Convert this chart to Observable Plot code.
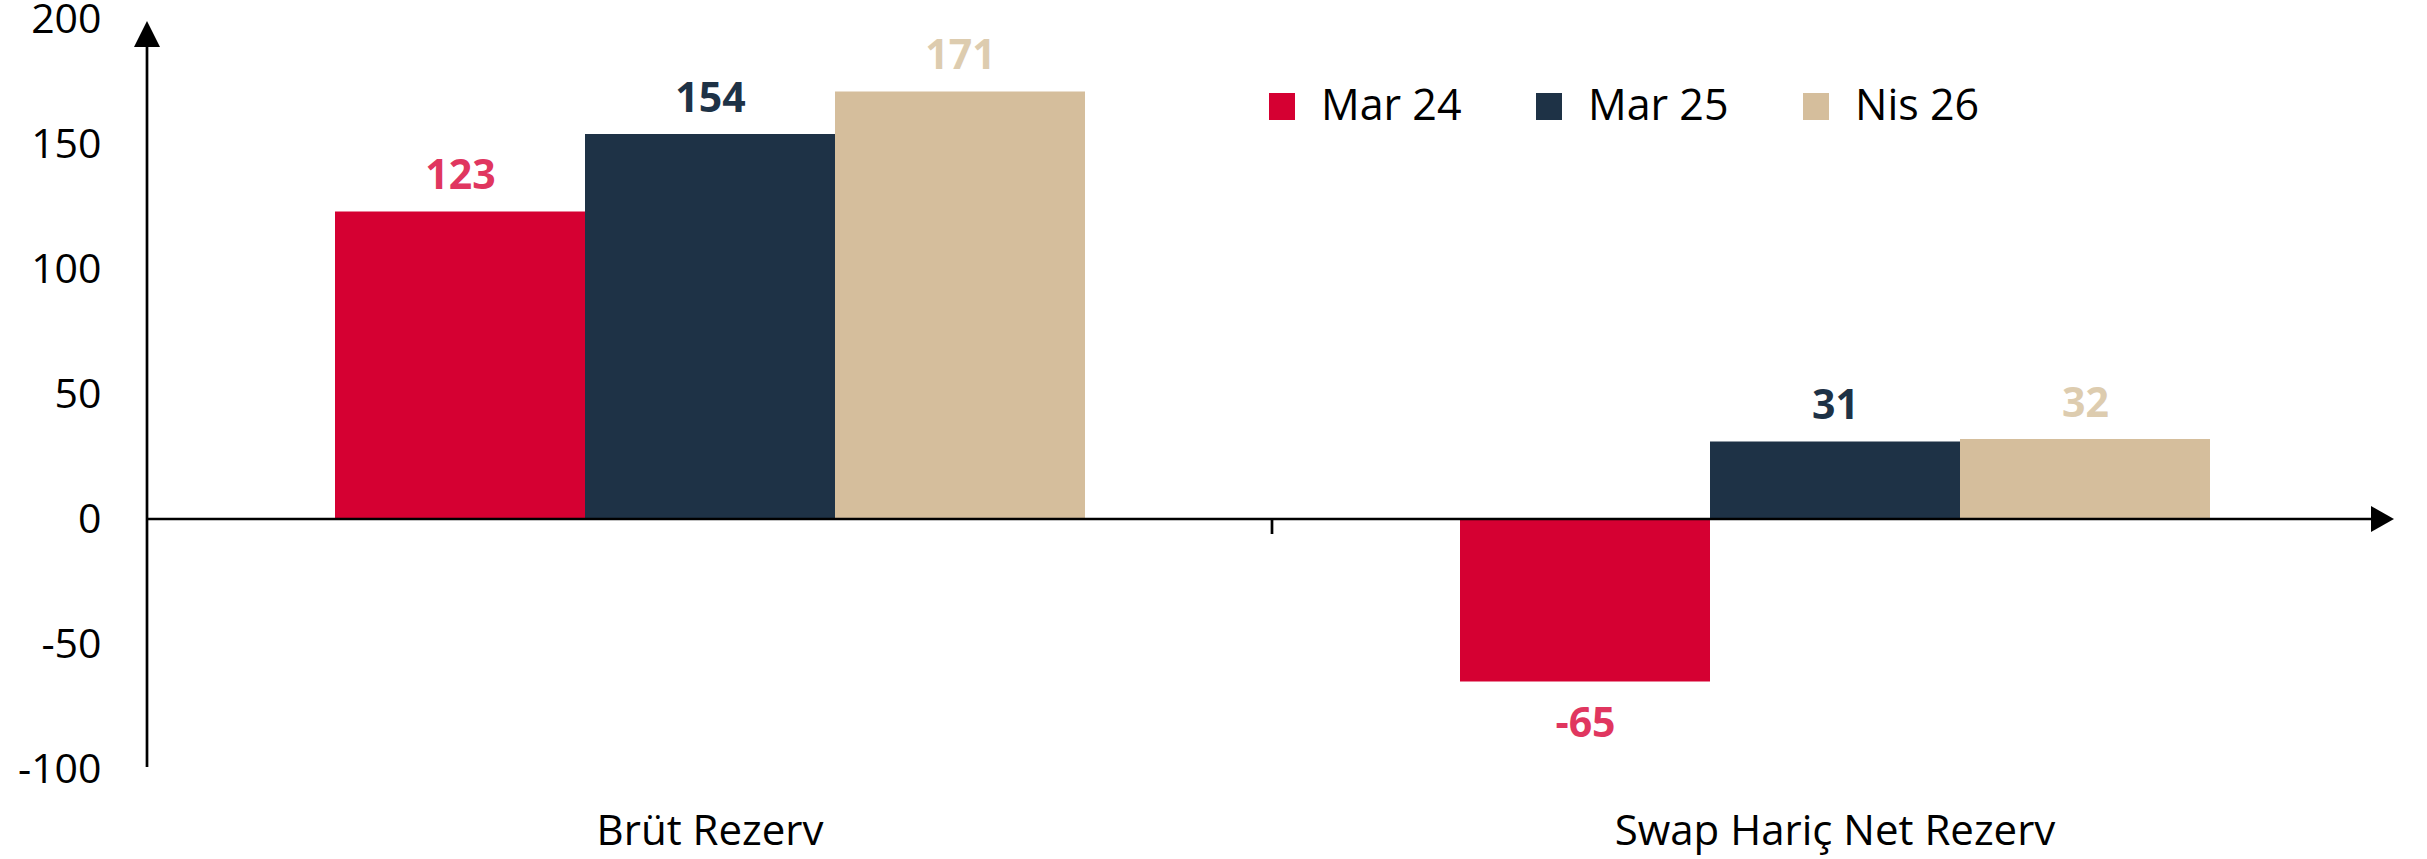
<!DOCTYPE html>
<html>
<head>
<meta charset="utf-8">
<script src="https://cdn.jsdelivr.net/npm/d3@7"></script>
<script src="https://cdn.jsdelivr.net/npm/@observablehq/plot@0.6"></script>
<style>
  html, body { margin: 0; padding: 0; background: #fff; }
  #wrap { position: relative; width: 2427px; height: 859px; font-family: "Open Sans", sans-serif; }
  #legend { position: absolute; left: 1269px; top: 74px; display: grid; grid-template-columns: 267px 267px 267px; }
  .item { display: flex; align-items: center; font-size: 43px; color: #000; line-height: normal; }
  .sw { width: 26px; height: 27px; margin-right: 26px; position: relative; top: 3px; flex: none; }
</style>
</head>
<body>
<div id="wrap"><div id="legend"></div></div>
<script>
const groups = ["Brüt Rezerv", "Swap Hariç Net Rezerv"];
const series = ["Mar 24", "Mar 25", "Nis 26"];
const brutValues = [123, 154, 171];
const swapValues = [-65, 31, 32];
const barColors = ["#D50032", "#1E3246", "#D5BE9C"];
const labelColors = ["#E0365F", "#1E3246", "#DDCCAF"];
const yTicks = [-100, -50, 0, 50, 100, 150, 200];

const data = [
  ...series.map((s, i) => ({group: groups[0], series: s, value: brutValues[i]})),
  ...series.map((s, i) => ({group: groups[1], series: s, value: swapValues[i]}))
];

const labelMarks = series.flatMap((s, i) => [
  Plot.text(data.filter(d => d.series === s && d.value >= 0), {
    fx: "group", x: "series", y: "value", text: d => String(d.value),
    fill: labelColors[i], fontWeight: 700, fontSize: 41, lineAnchor: "bottom", dy: -23
  }),
  Plot.text(data.filter(d => d.series === s && d.value < 0), {
    fx: "group", x: "series", y: "value", text: d => String(d.value),
    fill: labelColors[i], fontWeight: 700, fontSize: 41, lineAnchor: "top", dy: 26
  })
]);

const plot = Plot.plot({
  width: 2427,
  height: 859,
  marginLeft: 147,
  marginRight: 30,
  marginTop: 19,
  marginBottom: 90,
  style: {fontFamily: '"Open Sans", sans-serif', fontSize: "41px", color: "#000", background: "#fff", overflow: "visible"},
  fx: {domain: groups, padding: 0, label: null},
  x: {domain: series, paddingInner: 0, paddingOuter: 0.75, axis: null},
  y: {domain: [-100, 200], label: null},
  color: {domain: series, range: barColors},
  marks: [
    Plot.barY(data, {fx: "group", x: "series", y: "value", fill: "series"}),
    ...labelMarks,
    Plot.axisY({ticks: yTicks, tickSize: 0, tickPadding: 46, tickFormat: d => String(d), fontSize: 41, label: null}),
    Plot.axisFx({anchor: "bottom", tickSize: 0, tickPadding: 46, fontSize: 42, label: null})
  ]
});

document.getElementById("wrap").prepend(plot);

// axis lines and arrowheads, positioned through Plot's scales
const svg = d3.select(plot);
const y = plot.scale("y");
const fx = plot.scale("fx");
const left = fx.range[0];
const right = fx.range[1];
const y0 = y.apply(0);
const yTop = y.apply(200) + 2;
const yBot = y.apply(-100) - 2;
const g = svg.append("g").attr("stroke", "#000").attr("stroke-width", 2.7);
g.append("line").attr("x1", left).attr("x2", left).attr("y1", yBot).attr("y2", yTop + 24);
g.append("line").attr("x1", left).attr("x2", right - 22).attr("y1", y0).attr("y2", y0);
g.append("line").attr("x1", fx.apply(groups[1])).attr("x2", fx.apply(groups[1])).attr("y1", y0).attr("y2", y0 + 15);
svg.append("path").attr("fill", "#000")
  .attr("d", `M${left},${yTop}L${left - 13},${yTop + 26}L${left + 13},${yTop + 26}Z`);
svg.append("path").attr("fill", "#000")
  .attr("d", `M${right - 3},${y0}L${right - 26},${y0 - 13}L${right - 26},${y0 + 13}Z`);

// legend
const legend = d3.select("#legend");
series.forEach((s, i) => {
  const item = legend.append("div").attr("class", "item");
  item.append("span").attr("class", "sw").style("background", barColors[i]);
  item.append("span").text(s);
});
</script>
</body>
</html>
